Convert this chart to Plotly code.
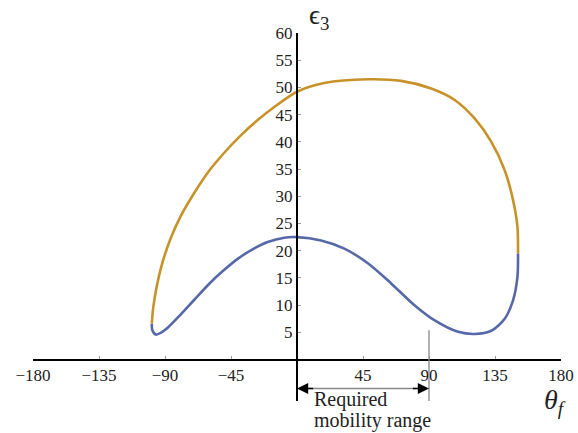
import plotly.graph_objects as go

# Upper branch (orange)
orange_theta = [-99.0, -98.0, -95.5, -92.0, -86.1, -79.2, -70.1, -61.0, -49.6, -38.3, -26.8, -15.5, 0.0,
                18.6, 48.3, 71.0, 91.5, 107.5, 121.1, 132.5, 141.6, 147.3, 150.3, 150.7]
orange_eps = [6.6, 9.6, 13.6, 17.6, 22.3, 26.4, 30.6, 34.3, 38.0, 41.2, 44.0, 46.4, 49.2,
              50.8, 51.5, 51.2, 49.8, 47.7, 44.3, 40.0, 34.8, 29.3, 24.4, 19.5]

# Lower branch (blue)
blue_theta = [-99.0, -98.6, -96.3, -93.0, -88.0, -80.0, -70.0, -60.0, -50.0, -40.0, -30.0, -20.0, -8.7, 0.0,
              16.4, 32.3, 48.3, 64.2, 80.1, 93.9, 109.8, 121.1, 132.5, 141.6, 147.3, 150.3, 150.7]
blue_eps = [6.6, 5.4, 4.6, 4.9, 5.9, 8.1, 11.0, 13.9, 16.4, 18.6, 20.3, 21.6, 22.4, 22.5,
            21.9, 20.4, 17.7, 14.0, 10.0, 7.2, 5.1, 4.7, 5.3, 7.5, 10.9, 15.2, 19.5]

x_ticks = [-180, -135, -90, -45, 45, 90, 135, 180]
y_ticks = [5, 10, 15, 20, 25, 30, 35, 40, 45, 50, 55, 60]

range_start = 0
range_end = 90

YMIN, YMAX = -7.6, 60
FONT = "Liberation Serif"


def py(eps):
    """convert an epsilon value to paper-y (plot domain is [0, 1])"""
    return (eps - YMIN) / (YMAX - YMIN)


def px(theta):
    return (theta + 180) / 360


fig = go.Figure()
fig.add_trace(go.Scatter(x=orange_theta, y=orange_eps, mode="lines",
                         line=dict(color="#C8922A", width=2.6, shape="spline", smoothing=0.8),
                         hoverinfo="skip", showlegend=False))
fig.add_trace(go.Scatter(x=blue_theta, y=blue_eps, mode="lines",
                         line=dict(color="#5668A8", width=2.6, shape="spline", smoothing=0.8),
                         hoverinfo="skip", showlegend=False))

# required mobility range: vertical marker at 90 and double arrow
fig.add_shape(type="line", xref="x", yref="y", x0=range_end, x1=range_end, y0=-7.7, y1=5.4,
              line=dict(color="#888888", width=1.3))
for tip, tail in [(range_end, range_end - 12), (range_start, range_start + 12)]:
    fig.add_annotation(x=tip, y=-5.3, ax=tail, ay=-5.3, axref="x", ayref="y", xref="x", yref="y",
                       text="", showarrow=True, arrowhead=2, arrowsize=1.4, arrowwidth=1.6,
                       arrowcolor="black", standoff=0)
fig.add_shape(type="line", xref="x", yref="y", x0=range_start + 8, x1=range_end - 8, y0=-5.3, y1=-5.3,
              line=dict(color="#888888", width=1.6))

fig.add_annotation(x=px(10.5), y=py(-7.4), xref="paper", yref="paper", text="Required",
                   showarrow=False, xanchor="left", yanchor="middle",
                   font=dict(family=FONT, size=20, color="#222222"))
fig.add_annotation(x=px(10.5), y=py(-11.2), xref="paper", yref="paper", text="mobility range",
                   showarrow=False, xanchor="left", yanchor="middle",
                   font=dict(family=FONT, size=20, color="#222222"))
fig.add_annotation(x=px(176.0), y=py(-7.6), xref="paper", yref="paper", text="<i>θ</i><sub><i>f</i></sub>",
                   showarrow=False, xanchor="center", yanchor="middle",
                   font=dict(family=FONT, size=28, color="#222222"))
fig.add_annotation(x=px(15.0), y=py(63.0), xref="paper", yref="paper", text="ϵ<sub>3</sub>",
                   showarrow=False, xanchor="center", yanchor="middle",
                   font=dict(family=FONT, size=27, color="#222222"))

fig.update_layout(
    width=578, height=433,
    margin=dict(l=33, r=17, t=33, b=32, autoexpand=False),
    paper_bgcolor="white", plot_bgcolor="white",
    font=dict(family=FONT, size=17, color="#222222"),
    xaxis=dict(range=[-180, 180], tickvals=x_ticks, ticktext=[str(v).replace("-", "−") for v in x_ticks],
               showgrid=False, zeroline=False, showline=True, linecolor="black", linewidth=2,
               ticks="inside", ticklen=3, tickcolor="#999999", tickwidth=1, automargin=False,
               anchor="free", position=py(0), fixedrange=True),
    yaxis=dict(range=[YMIN, YMAX], tickvals=y_ticks, ticktext=[str(v) for v in y_ticks],
               showgrid=False, zeroline=False, showline=True, linecolor="black", linewidth=2,
               ticks="inside", ticklen=3, tickcolor="#999999", tickwidth=1, automargin=False,
               anchor="free", position=px(0), fixedrange=True),
)

fig.write_html("out.html", config={"displayModeBar": False},
               post_script="document.body.style.margin='0';document.body.style.overflow='hidden';")
